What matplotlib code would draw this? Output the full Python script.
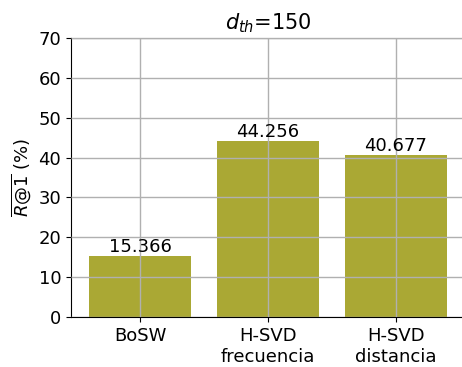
import matplotlib
matplotlib.use("Agg")
import matplotlib.pyplot as plt
import numpy as np

methods = ["BoSW", "H-SVD\nfrecuencia", "H-SVD\ndistancia"]
recall_at_1 = [15.366, 44.256, 40.677]
y_ticks = [0, 10, 20, 30, 40, 50, 60, 70]

BAR_COLOR = "#aaa834"

fig = plt.figure(figsize=(4.62, 3.67), dpi=100)
ax = fig.add_axes([71 / 462, 1 - 317 / 367, (465 - 71) / 462, (317 - 38) / 367])

x = np.arange(len(methods))
bars = ax.bar(x, recall_at_1, width=0.8, color=BAR_COLOR, zorder=1)
ax.grid(True, color="#b0b0b0", linewidth=1.0, zorder=2)
ax.set_axisbelow(False)

for rect, val in zip(bars, recall_at_1):
    ax.text(rect.get_x() + rect.get_width() / 2, val, f"{val:.3f}",
            ha="center", va="bottom", fontsize=13, zorder=3)

ax.set_xticks(x)
ax.set_xticklabels(methods, fontsize=13)
ax.set_yticks(y_ticks)
ax.tick_params(axis="y", labelsize=13)
ax.set_ylim(0, 70)
ax.set_xlim(-0.54, 2.54)
ax.set_ylabel(r"$\overline{R@1}$ (%)", fontsize=13)
ax.set_title(r"$d_{th}$=150", fontsize=15)
ax.spines["right"].set_visible(False)

fig.savefig("out.png", dpi=100)
